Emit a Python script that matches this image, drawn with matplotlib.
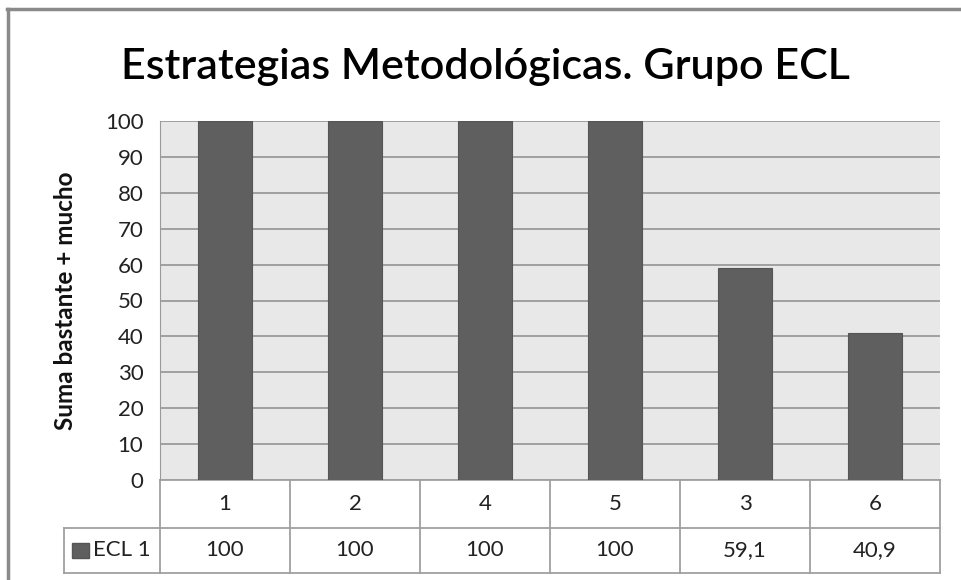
import matplotlib.pyplot as plt
import matplotlib.transforms as mtransforms
from matplotlib.patches import Rectangle
from matplotlib.lines import Line2D

categories = ["1", "2", "4", "5", "3", "6"]
values = [100, 100, 100, 100, 59.1, 40.9]
value_labels = ["100", "100", "100", "100", "59,1", "40,9"]
series_name = "ECL 1"
title = "Estrategias Metodológicas. Grupo ECL"
ylabel = "Suma bastante + mucho"

plt.rcParams['font.family'] = ['Lato', 'DejaVu Sans']

W, H = 962, 580
fig = plt.figure(figsize=(W / 100, H / 100), dpi=100)

# outer chart border (only top and left visible)
fig.add_artist(Line2D([7 / W, 1], [1 - 9 / H, 1 - 9 / H], transform=fig.transFigure,
                      color="#8a8a8a", lw=2.5))
fig.add_artist(Line2D([8 / W, 8 / W], [0, 1 - 9 / H], transform=fig.transFigure,
                      color="#8a8a8a", lw=2.5))

left, right, top, bottom = 160, 940, 121, 480
ax = fig.add_axes([left / W, 1 - bottom / H, (right - left) / W, (bottom - top) / H])
ax.set_facecolor("#e8e8e8")

x = list(range(len(categories)))
ax.bar(x, values, width=0.41, color="#5f5f5f", edgecolor="#555555", linewidth=0.8, zorder=3)

ax.set_xlim(-0.5, len(categories) - 0.5)
ax.set_ylim(0, 100)
ax.set_yticks(range(0, 101, 10))
ax.yaxis.grid(True, color="#9a9a9a", linewidth=1.3, zorder=0)
ax.set_axisbelow(True)
ax.tick_params(axis="y", length=0, pad=12, labelsize=16, labelcolor="#222222")
ax.set_xticks([])
for s in ax.spines.values():
    s.set_visible(False)
ax.spines["left"].set_visible(True)
ax.spines["left"].set_color("#9a9a9a")

ax.set_ylabel(ylabel, fontsize=17.5, fontweight="bold", labelpad=20, color="#111111")
fig.text(0.505, 1 - 67 / H, title, ha="center", va="center", fontsize=31,
         fontweight="semibold", color="black")

# data table below the plot
trans = mtransforms.blended_transform_factory(ax.transData, ax.transAxes)
plot_h = bottom - top
r1 = 48 / plot_h
r2 = (48 + 45) / plot_h
grid_c = "#a0a0a0"
xl = -0.5 - (left - 64) / (right - left) * len(categories)
xr = len(categories) - 0.5

def line(xs, ys):
    ax.add_line(Line2D(xs, ys, transform=trans, color=grid_c, lw=1.3, clip_on=False))

line([-0.5, xr], [0, 0])
line([xl, xr], [-r1, -r1])
line([xl, xr], [-r2, -r2])
line([xl, xl], [-r1, -r2])
for i in range(len(categories) + 1):
    line([i - 0.5, i - 0.5], [0, -r2])

for i, (c, v) in enumerate(zip(categories, value_labels)):
    ax.text(i, -r1 / 2, c, transform=trans, ha="center", va="center",
            fontsize=16, color="#222222")
    ax.text(i, -(r1 + r2) / 2, v, transform=trans, ha="center", va="center",
            fontsize=16, color="#222222")

# legend key in table
ax.add_patch(Rectangle((xl + 0.065, -(r1 + r2) / 2 - 0.021), 0.125, 0.042, transform=trans,
                       facecolor="#5f5f5f", edgecolor="#555555", clip_on=False))
ax.text(xl + 0.22, -(r1 + r2) / 2, series_name, transform=trans, ha="left", va="center",
        fontsize=16, color="#222222")

fig.savefig("out.png", dpi=100)
